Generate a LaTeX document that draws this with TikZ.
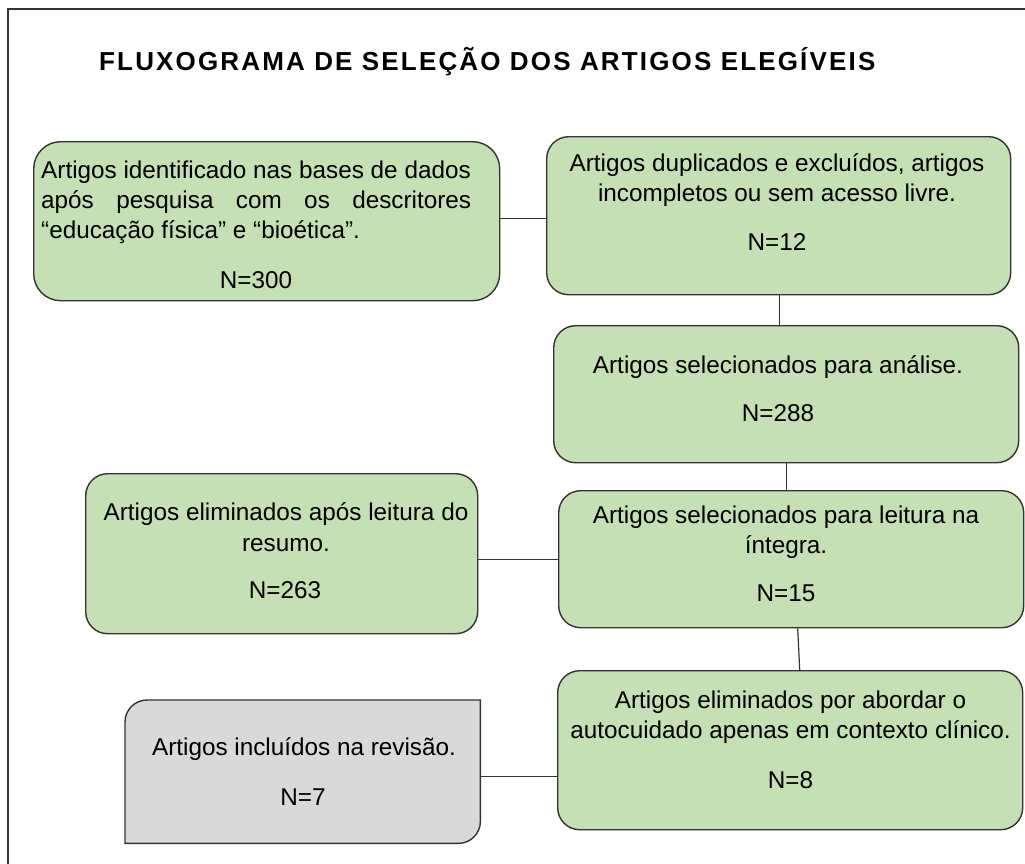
\documentclass[tikz,border=0pt]{standalone}
\usepackage{fontspec}
\setmainfont{Liberation Sans}
\newfontfamily\titlefont{Liberation Sans}[LetterSpace=8.3]
\definecolor{boxgreen}{HTML}{C5E0B4}
\definecolor{boxgray}{HTML}{D9D9D9}
\definecolor{edge}{HTML}{333333}
\begin{document}
\begin{tikzpicture}[x=1pt,y=-1pt,
  box/.style={draw=edge, fill=boxgreen, line width=1.4pt, rounded corners=22pt,
    anchor=north west, inner sep=0pt},
  txt/.style={anchor=base, inner sep=0pt, font=\fontsize{24.3}{30}\selectfont, text=black},
  txtl/.style={txt, anchor=base west},
  conn/.style={draw=edge, line width=1.2pt}]
\useasboundingbox (0,0) rectangle (1025,863);
\fill[white] (0,0) rectangle (1025,863);
% frame
\coordinate (fa) at (1030,9);
\coordinate (fb) at (8,9);
\coordinate (fc) at (8,870);
\draw[edge, line width=1.3pt] (fa) -- (fb) -- (fc);
% title
\node[anchor=base west, inner sep=0pt, font=\titlefont\bfseries\fontsize{26}{30}\selectfont] (title) at (99,70.5)
  {FLUXOGRAMA DE SELEÇÃO DOS ARTIGOS ELEGÍVEIS};
% boxes
\node[box, rounded corners=27pt, minimum width=466pt, minimum height=159pt] (b1) at (33,141) {};
\node[box, minimum width=464pt, minimum height=158pt] (b2) at (546,136) {};
\node[box, minimum width=465pt, minimum height=137pt] (b3) at (553,325) {};
\node[box, minimum width=392pt, minimum height=160pt] (b4) at (85,473) {};
\node[box, minimum width=465pt, minimum height=137pt] (b5) at (558,490) {};
\node[box, minimum width=465pt, minimum height=159pt] (b6) at (557,670) {};
\node[anchor=north west, inner sep=0pt, minimum width=355pt, minimum height=143pt] (b7) at (125,700) {};
\draw[draw=edge, fill=boxgray, line width=1.4pt]
  ([yshift=-22pt]b7.north west) .. controls ([yshift=-9.85pt]b7.north west) and ([xshift=9.85pt]b7.north west) .. ([xshift=22pt]b7.north west)
  -- (b7.north east)
  -- ([yshift=22pt]b7.south east) .. controls ([yshift=9.85pt]b7.south east) and ([xshift=-9.85pt]b7.south east) .. ([xshift=-22pt]b7.south east)
  -- (b7.south west) -- cycle;
% texts box 1
\node[txtl] (t1a) at (41,178) {Artigos identificado nas bases de dados};
\node[txtl] (t1b) at (41,208) {\makebox[430pt][s]{após pesquisa com os descritores}};
\node[txtl] (t1c) at (41,238) {“educação física” e “bioética”.};
\node[txt] (t1d) at (256,288) {N=300};
% box 2
\node[txt] (t2a) at (777,171) {Artigos duplicados e excluídos, artigos};
\node[txt] (t2b) at (777,201) {incompletos ou sem acesso livre.};
\node[txt] (t2c) at (777,250) {N=12};
% box 3
\node[txt] (t3a) at (778,373) {Artigos selecionados para análise.};
\node[txt] (t3b) at (778,421) {N=288};
% box 4
\node[txt] (t4a) at (286,520) {Artigos eliminados após leitura do};
\node[txt] (t4b) at (286,551) {resumo.};
\node[txt] (t4c) at (285,598) {N=263};
% box 5
\node[txt] (t5a) at (786,523) {Artigos selecionados para leitura na};
\node[txt] (t5b) at (786,553) {íntegra.};
\node[txt] (t5c) at (786,601) {N=15};
% box 6
\node[txt] (t6a) at (790.5,708) {Artigos eliminados por abordar o};
\node[txt] (t6b) at (790.5,738) {autocuidado apenas em contexto clínico.};
\node[txt] (t6c) at (790.5,788) {N=8};
% box 7
\node[txt] (t7a) at (304,755) {Artigos incluídos na revisão.};
\node[txt] (t7b) at (303,805) {N=7};
% connectors
\draw[conn] ([yshift=-3pt]b2.west) -- ([yshift=-3pt]b2.west -| b1.east);
\draw[conn] ([xshift=1pt]b2.south) -- ([xshift=1pt]b2.south |- b3.north);
\draw[conn] (b3.south) -- (b3.south |- b5.north);
\draw[conn] (b5.west) -- (b5.west -| b4.east);
\draw[conn] ([xshift=6.5pt]b5.south) -- ([xshift=9.5pt]b6.north);
\draw[conn] ([yshift=-4.5pt]b7.east) -- ([yshift=-4.5pt]b7.east -| b6.west);
\end{tikzpicture}
\end{document}
